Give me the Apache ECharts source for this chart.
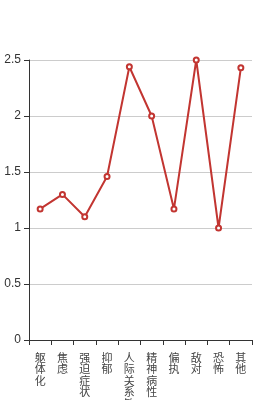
<!DOCTYPE html>
<html><head><meta charset="utf-8">
<script src="https://cdn.jsdelivr.net/npm/echarts@6/dist/echarts.min.js"></script>
<style>html,body{margin:0;padding:0;background:#fff}#c{width:280px;height:400px}</style>
</head><body><div id="c"></div>
<script>
var categories = ['躯体化','焦虑','强迫症状','抑郁','人际关系敏感','精神病性','偏执','敌对','恐怖','其他'];
var values = [1.17, 1.30, 1.10, 1.46, 2.44, 2.00, 1.17, 2.50, 1.00, 2.43];
var yTicks = [0, 0.5, 1, 1.5, 2, 2.5];
var chart = echarts.init(document.getElementById('c'), null, {renderer:'canvas'});
chart.setOption({
  animation:false,
  grid:{left:29,right:28,top:60,bottom:60,containLabel:false,outerBoundsMode:'none'},
  xAxis:{type:'category',data:categories,boundaryGap:true,
    axisLine:{lineStyle:{color:'#333',width:1}},
    axisTick:{show:true,length:5,lineStyle:{color:'#333'}},
    axisLabel:{interval:0,color:'#444',fontSize:11,lineHeight:11.5,margin:12,fontFamily:'Noto Sans CJK SC',
      formatter:function(v){return v.split('').join('\n');}}},
  yAxis:{type:'value',min:0,max:2.5,interval:0.5,
    axisLine:{show:true,lineStyle:{color:'#333'}},
    axisTick:{show:true,length:5,lineStyle:{color:'#333'}},
    splitLine:{lineStyle:{color:'#ccc'}},
    axisLabel:{color:'#333',fontSize:12,margin:8,fontFamily:'Liberation Sans',
      formatter:function(v){return yTicks.indexOf(v)>=0?String(v):'';}}},
  series:[{type:'line',data:values,symbol:'emptyCircle',symbolSize:5,
    lineStyle:{color:'#c23531',width:2},itemStyle:{color:'#c23531',borderWidth:1}}]
});
</script></body></html>
